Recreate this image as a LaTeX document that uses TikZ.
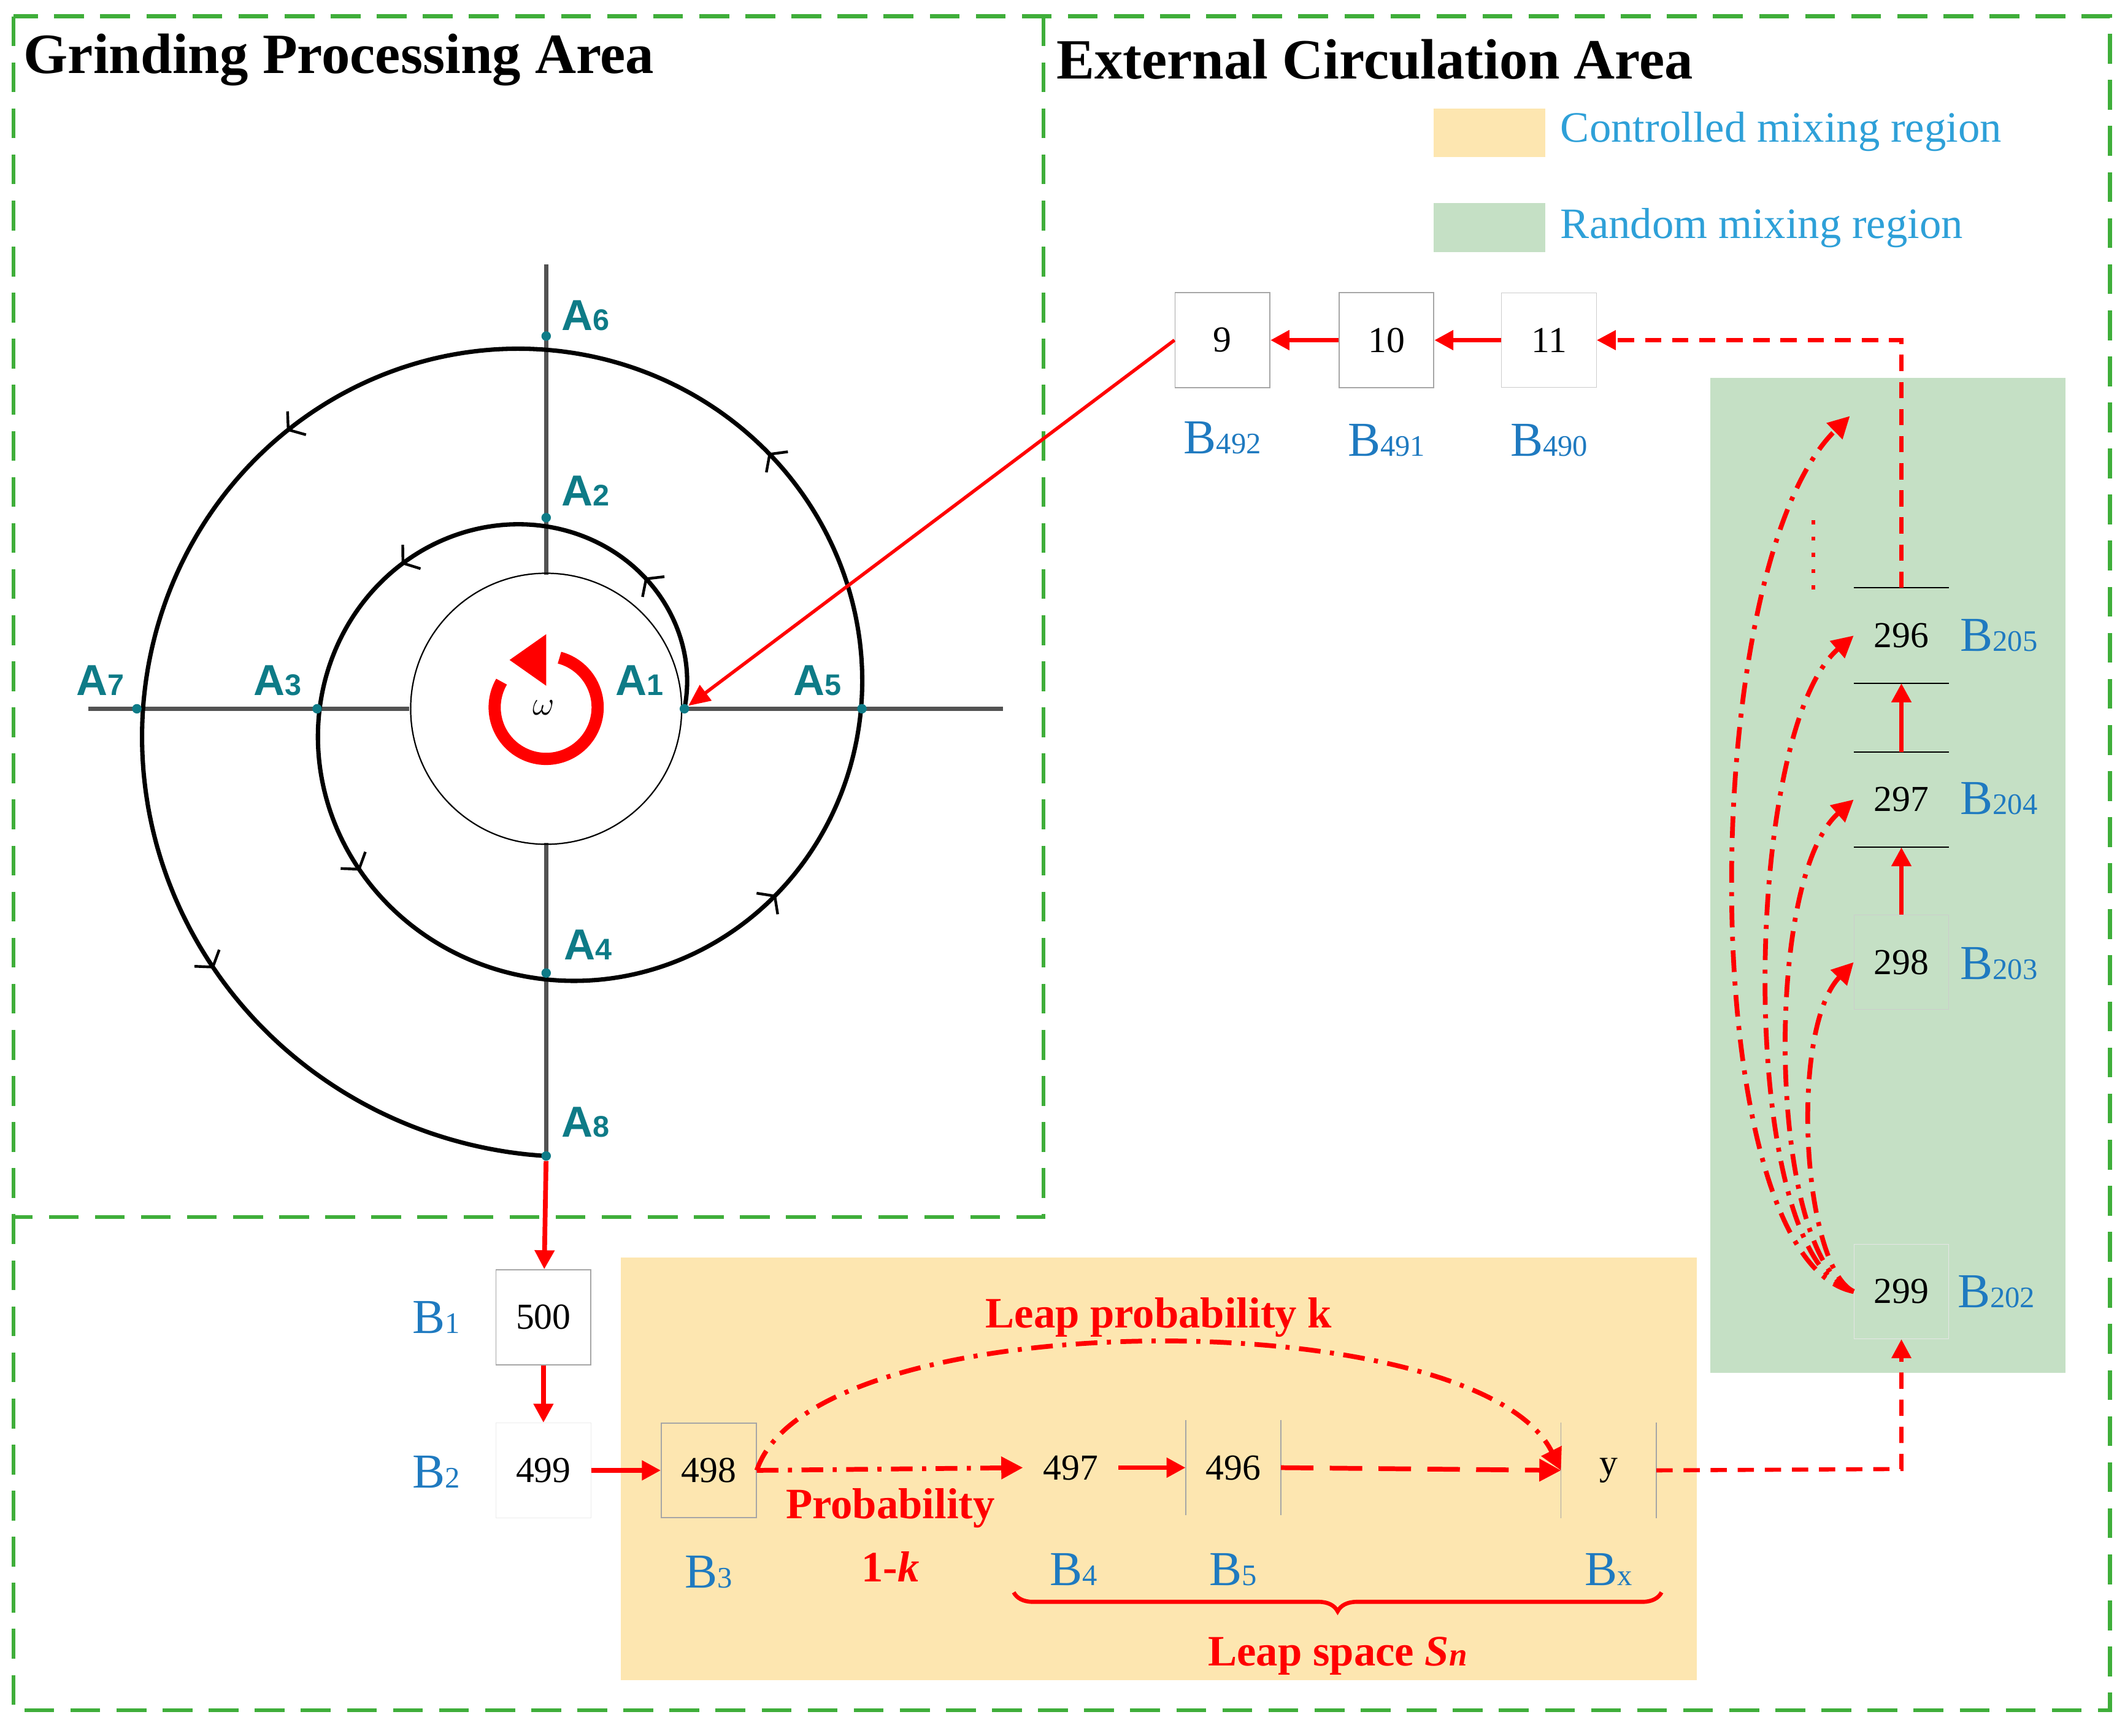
\documentclass[tikz,border=0pt]{standalone}
\usepackage{fontspec}
\setmainfont{Liberation Serif}
\newfontfamily\sansA{Liberation Sans}
\usetikzlibrary{arrows.meta,decorations.pathreplacing}
\definecolor{gfr}{HTML}{3FAE3A}
\definecolor{teal}{HTML}{0E7B87}
\definecolor{bblue}{HTML}{1F7AC0}
\definecolor{lblue}{HTML}{2EA0D8}
\definecolor{yel}{HTML}{FDE6B0}
\definecolor{grn}{HTML}{C5E0C5}
\definecolor{rd}{HTML}{FF0000}
\newcommand{\fs}[1]{\fontsize{#1}{#1}\selectfont}
\begin{document}
\begin{tikzpicture}[x=1pt,y=-1pt,
  frame/.style={gfr,line width=3pt,dash pattern=on 22pt off 12pt},
  box/.style={minimum size=70pt,inner sep=0pt,font=\fs{27}},
  gbox/.style={box,draw=gray!70,line width=0.8pt},
  blab/.style={text=bblue,font=\fs{36}},
  alab/.style={text=teal,font=\sansA\bfseries\fs{32}},
  dot/.style={circle,fill=teal,inner sep=0pt,minimum size=7pt},
  ra/.style={rd,line width=3.5pt,-{Triangle[length=14pt,width=14pt]}},
  dd/.style={rd,line width=3.5pt,dash pattern=on 16pt off 7pt on 3pt off 7pt},
  title/.style={font=\bfseries\fs{42},anchor=west},
  redt/.style={rd,font=\bfseries\fs{32}}]
\useasboundingbox (0,0) rectangle (1568,1281);
% regions
\fill[yel] (458,928) rectangle (1252,1240);
\fill[grn] (1262,279) rectangle (1524,1013);
\fill[yel] (1058,80) rectangle (1140,116);
\fill[grn] (1058,150) rectangle (1140,186);
\node[anchor=west,text=lblue,font=\fs{32}] (lg1) at (1148,97) {Controlled mixing region};
\node[anchor=west,text=lblue,font=\fs{32}] (lg2) at (1148,168) {Random mixing region};
% frames
\draw[frame] (10,12) rectangle (1557,1262);
\draw[frame] (770,12) -- (770,898) -- (10,898);
\node[title] (t1) at (14,44) {Grinding Processing Area};
\node[title] (t2) at (776,44) {External Circulation Area};
% axes
\draw[gray!30!black!80,line width=3pt] (65,523) -- (302,523) (504,523) -- (740,523) (403,195) -- (403,424) (403,622) -- (403,855);
\node[circle,draw,line width=1pt,minimum size=200pt,inner sep=0] (drum) at (403,523) {};
% spiral
\draw[line width=3.2pt] plot[domain=0:630,samples=250,smooth] ({403+(102+0.362*\x)*cos(\x)},{523-(102+0.362*\x)*sin(\x)});
\foreach \t in {53,135,221,321,409,493,578}
  \draw[line width=2pt,-{Straight Barb[length=8pt,width=22pt,line width=2pt]}]
    plot[domain=\t-3:\t,samples=4] ({403+(102+0.362*\x)*cos(\x)},{523-(102+0.362*\x)*sin(\x)});
% points
\node[dot] (A1) at (505,523) {}; \node[dot] (A2) at (403,382) {};
\node[dot] (A3) at (234,523) {}; \node[dot] (A4) at (403,718) {};
\node[dot] (A5) at (636,523) {}; \node[dot] (A6) at (403,248) {};
\node[dot] (A7) at (101,523) {}; \node[dot] (A8) at (403,853) {};
\node[alab] at (472,502) {A\fs{22}1};
\node[alab] at (432,362) {A\fs{22}2};
\node[alab] at (205,502) {A\fs{22}3};
\node[alab] at (434,697) {A\fs{22}4};
\node[alab] at (603,502) {A\fs{22}5};
\node[alab] at (432,233) {A\fs{22}6};
\node[alab] at (74,502) {A\fs{22}7};
\node[alab] at (432,828) {A\fs{22}8};
% omega
\draw[rd,line width=9pt] (403,522) ++(-150:38) arc(-150:-435:38);
\fill[rd] (376,487) -- (403,468) -- (403,506) -- cycle;
\node[font=\itshape\fs{40}] (om) at (401,522) {$\omega$};
% top row
\node[gbox] (b9) at (902,251) {9};
\node[gbox] (b10) at (1023,251) {10};
\node[box,draw=gray!40] (b11) at (1143,251) {11};
\node[blab] at (902,323) {B\fs{22}492};
\node[blab] at (1023,325) {B\fs{22}491};
\node[blab] at (1143,325) {B\fs{22}490};
\draw[ra] (b11) -- (b10);
\draw[ra] (b10) -- (b9);
\draw[rd,line width=2.5pt,-{Triangle[length=16pt,width=14pt]}] (b9.west) -- (A1);
% right column
\node[box] (b296) at (1403,469) {296};
\node[box] (b297) at (1403,590) {297};
\node[box,draw=gray!40] (b298) at (1403,710) {298};
\node[box,draw=gray!20] (b299) at (1403,953) {299};
\draw[line width=1pt] (b296.north west) -- (b296.north east) (b296.south west) -- (b296.south east)
 (b297.north west) -- (b297.north east) (b297.south west) -- (b297.south east);
\node[blab] at (1475,469) {B\fs{22}205};
\node[blab] at (1475,589) {B\fs{22}204};
\node[blab] at (1475,711) {B\fs{22}203};
\node[blab] at (1473,953) {B\fs{22}202};
\draw[ra] (b297) -- (b296);
\draw[ra] (b298) -- (b297);
\coordinate (c1) at (1403,251);
\draw[rd,line width=3pt,dash pattern=on 12pt off 8pt,-{Triangle[length=14pt,width=14pt]}] (b296.north) -- (c1) -- (b11.east);
\coordinate (top) at (1365,307);
\draw[dd,-{Triangle[length=16pt,width=16pt]}] (b299.west) .. controls (1250,930) and (1250,420) .. (top);
\draw[dd,-{Triangle[length=16pt,width=16pt]}] (b299.west) .. controls (1280,930) and (1285,540) .. (b296.west);
\draw[dd,-{Triangle[length=16pt,width=16pt]}] (b299.west) .. controls (1305,930) and (1300,650) .. (b297.west);
\draw[dd,-{Triangle[length=16pt,width=16pt]}] (b299.west) .. controls (1330,935) and (1320,760) .. (b298.west);
\draw[rd,line width=2.5pt,dash pattern=on 3pt off 9pt] (1338,384) -- (1338,436);
% bottom row
\node[gbox] (b500) at (401,972) {500};
\node[box,draw=gray!15] (b499) at (401,1085) {499};
\node[gbox] (b498) at (523,1085) {498};
\node[box] (b497) at (790,1083) {497};
\node[box] (b496) at (910,1083) {496};
\node[box] (by) at (1187,1085) {y};
\draw[gray!70,line width=0.8pt] (b496.north west) -- (b496.south west) (b496.north east) -- (b496.south east)
 (by.north west) -- (by.south west) (by.north east) -- (by.south east);
\node[blab] at (322,972) {B\fs{22}1};
\node[blab] at (322,1086) {B\fs{22}2};
\node[blab] at (523,1160) {B\fs{22}3};
\node[blab] at (792,1158) {B\fs{22}4};
\node[blab] at (910,1158) {B\fs{22}5};
\node[blab] at (1187,1158) {B\fs{22}x};
\draw[ra] (A8) -- (b500);
\draw[ra] (b500) -- (b499);
\draw[ra] (b499) -- (b498);
\draw[dd,-{Triangle[length=16pt,width=16pt]}] (b498.east) -- (b497.west);
\draw[ra] (b497) -- (b496);
\draw[rd,line width=3.5pt,dash pattern=on 24pt off 12pt,-{Triangle[length=16pt,width=16pt]}] (b496.east) -- (by.west);
\draw[dd,-{Triangle[length=16pt,width=16pt]}] (b498.east) .. controls (600,960) and (1090,960) .. (by.west);
\coordinate (c2) at (1403,1084);
\draw[rd,line width=3pt,dash pattern=on 12pt off 8pt,-{Triangle[length=14pt,width=14pt]}] (by.east) -- (c2) -- (b299.south);
\node[redt] at (855,972) {Leap probability k};
\node[redt] at (657,1113) {Probability};
\node[redt] at (657,1156) {1-\textit{k}};
\draw[rd,line width=3pt,decorate,decoration={brace,amplitude=14pt,mirror}] (748,1175) -- (1226,1175);
\node[redt] at (987,1222) {Leap space \textit{S\fs{24}n}};
\end{tikzpicture}
\end{document}
